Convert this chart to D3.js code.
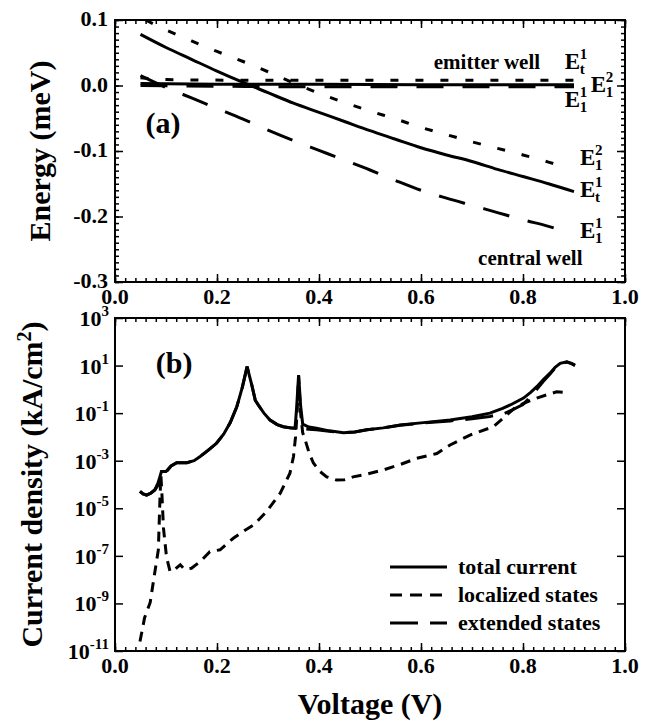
<!DOCTYPE html>
<html lang="en">
<head>
<meta charset="utf-8">
<script src="https://d3js.org/d3.v7.min.js"></script>
<style type="text/css">
body { margin: 0; background: #fff; }
.frame { fill: none; stroke: #000; stroke-width: 2; }
.curve { fill: none; stroke: #000; stroke-width: 3; }
</style>
</head>
<body>
<script type="text/javascript">
// ---- panel (a): energy levels, [voltage, energy] ----
var emitterEt1  = [[0.05,0.003],[0.2,0.002],[0.4,0.002],[0.6,0.001],[0.8,0.001],[0.9,0.001]];
var emitterE12  = [[0.05,0.012],[0.1,0.009],[0.3,0.008],[0.5,0.008],[0.7,0.008],[0.9,0.008]];
var emitterE11  = [[0.05,0.000],[0.2,-0.001],[0.4,-0.002],[0.6,-0.002],[0.8,-0.002],[0.9,-0.002]];
var centralEt1  = [[0.05,0.078],[0.1,0.058],[0.15,0.040],[0.2,0.022],[0.25,0.005],[0.3,-0.011],[0.35,-0.027],
                   [0.4,-0.041],[0.45,-0.055],[0.5,-0.069],[0.55,-0.082],[0.6,-0.095],[0.65,-0.106],[0.7,-0.116],
                   [0.75,-0.128],[0.8,-0.139],[0.85,-0.150],[0.9,-0.162]];
var centralE12  = [[0.06,0.100],[0.1,0.085],[0.15,0.068],[0.2,0.052],[0.25,0.037],[0.3,0.021],[0.35,0.004],
                   [0.4,-0.012],[0.45,-0.026],[0.5,-0.039],[0.55,-0.051],[0.6,-0.064],[0.65,-0.075],[0.7,-0.086],
                   [0.75,-0.096],[0.8,-0.106],[0.85,-0.117],[0.88,-0.124]];
var centralE11  = [[0.05,0.015],[0.1,-0.003],[0.15,-0.019],[0.2,-0.035],[0.25,-0.051],[0.3,-0.068],[0.35,-0.084],
                   [0.4,-0.099],[0.45,-0.114],[0.5,-0.129],[0.55,-0.145],[0.6,-0.160],[0.65,-0.172],[0.7,-0.183],
                   [0.75,-0.194],[0.8,-0.205],[0.85,-0.215],[0.88,-0.222]];

// ---- panel (b): current density (kA/cm^2), [voltage, J] ----
var totalCurrent = [[0.049,5.2e-5],[0.055,4.0e-5],[0.062,3.6e-5],[0.070,4.3e-5],[0.078,5.9e-5],[0.084,1.1e-4],
  [0.088,2.1e-4],[0.091,3.5e-4],[0.100,3.5e-4],[0.110,6.0e-4],[0.121,8.3e-4],[0.141,8.3e-4],[0.155,1.0e-3],
  [0.167,1.5e-3],[0.183,2.8e-3],[0.199,5.4e-3],[0.213,1.3e-2],[0.226,4.0e-2],[0.239,1.9e-1],[0.250,1.3],
  [0.259,9.0],[0.268,1.6],[0.275,3.5e-1],[0.281,2.2e-1],[0.292,1.0e-1],[0.304,5.1e-2],[0.318,3.3e-2],
  [0.330,2.7e-2],[0.345,2.4e-2],[0.353,2.3e-2],[0.356,1.5e-1],[0.360,4.0],[0.364,2.0e-1],[0.368,3.5e-2],
  [0.380,2.6e-2],[0.395,2.3e-2],[0.420,1.8e-2],[0.448,1.5e-2],[0.470,1.6e-2],[0.494,2.0e-2],[0.526,2.4e-2],
  [0.559,3.2e-2],[0.600,3.9e-2],[0.657,5.1e-2],[0.700,7.0e-2],[0.735,1.0e-1],[0.760,1.6e-1],[0.775,2.2e-1],
  [0.801,4.3e-1],[0.815,7.5e-1],[0.827,1.3],[0.840,2.6],[0.853,4.8],[0.863,8.5],[0.873,1.25e1],[0.886,1.45e1],
  [0.895,1.25e1],[0.902,1.05e1]];
var localizedStates = [[0.049,2.5e-11],[0.058,2.5e-10],[0.069,1.1e-9],[0.078,2.0e-8],[0.085,1.8e-7],
  [0.088,2.0e-5],[0.090,2.5e-4],[0.092,4.0e-5],[0.095,1.5e-6],[0.101,9.0e-8],[0.108,2.2e-8],[0.118,2.8e-8],
  [0.128,4.2e-8],[0.136,2.8e-8],[0.150,3.0e-8],[0.168,6.0e-8],[0.186,1.5e-7],[0.206,1.8e-7],[0.232,5.5e-7],
  [0.255,1.2e-6],[0.272,2.0e-6],[0.297,7.2e-6],[0.324,4.3e-5],[0.343,3.0e-4],[0.350,1.5e-3],[0.354,1.0e-2],
  [0.357,1.0e-1],[0.360,3.5],[0.364,1.0e-1],[0.368,1.5e-2],[0.373,7.4e-3],[0.381,2.0e-3],[0.389,8.0e-4],
  [0.402,3.5e-4],[0.415,2.1e-4],[0.434,1.55e-4],[0.450,1.6e-4],[0.467,2.1e-4],[0.490,2.6e-4],[0.526,4.1e-4],
  [0.560,7.0e-4],[0.591,1.25e-3],[0.631,2.0e-3],[0.657,4.6e-3],[0.696,1.2e-2],[0.742,2.7e-2],[0.768,8.3e-2],
  [0.787,1.9e-1],[0.805,2.8e-1],[0.827,4.3e-1],[0.848,6.0e-1],[0.866,7.9e-1],[0.878,7.6e-1],[0.889,7.2e-1]];
var extendedStates = [[0.049,5.2e-5],[0.055,4.0e-5],[0.062,3.6e-5],[0.070,4.3e-5],[0.078,5.9e-5],[0.084,9.0e-5],
  [0.090,1.4e-4],[0.100,3.3e-4],[0.110,6.0e-4],[0.121,8.3e-4],[0.141,8.3e-4],[0.155,1.0e-3],[0.167,1.5e-3],
  [0.183,2.8e-3],[0.199,5.4e-3],[0.213,1.3e-2],[0.226,4.0e-2],[0.239,1.9e-1],[0.250,1.3],[0.259,9.0],
  [0.268,1.6],[0.275,3.5e-1],[0.281,2.2e-1],[0.292,1.0e-1],[0.304,5.1e-2],[0.318,3.3e-2],[0.330,2.7e-2],
  [0.345,2.4e-2],[0.360,2.3e-2],[0.380,2.1e-2],[0.395,2.0e-2],[0.420,1.75e-2],[0.448,1.5e-2],[0.470,1.6e-2],
  [0.494,2.0e-2],[0.526,2.4e-2],[0.559,3.1e-2],[0.600,3.8e-2],[0.657,4.7e-2],[0.700,5.8e-2],[0.735,7.3e-2],
  [0.760,9.0e-2],[0.780,1.4e-1],[0.800,2.3e-1],[0.815,5.0e-1],[0.827,1.0],[0.840,2.2],[0.853,4.4],
  [0.863,8.0],[0.873,1.2e1],[0.886,1.4e1],[0.895,1.2e1],[0.902,1.0e1]];

var voltTicks   = [0, 0.2, 0.4, 0.6, 0.8, 1.0];
var energyTicks = [0.1, 0.0, -0.1, -0.2, -0.3];
var currentExps = [3, 1, -1, -3, -5, -7, -9, -11];
var legendNames = ["total current", "localized states", "extended states"];

var W = 650, H = 721;
var pa = {left: 115, right: 625, top: 20, bottom: 282};
var pb = {left: 115, right: 625, top: 318, bottom: 651};

var svg = d3.select("body").append("svg")
            .attr("width", W)
            .attr("height", H);

var xa = d3.scaleLinear().domain([0, 1]).range([pa.left, pa.right]);
var ya = d3.scaleLinear().domain([-0.3, 0.1]).range([pa.bottom, pa.top]);
var xb = d3.scaleLinear().domain([0, 1]).range([pb.left, pb.right]);
var yb = d3.scaleLog().domain([1e-11, 1e3]).range([pb.bottom, pb.top]);

var minorV = d3.range(0, 1.0001, 0.02);

function label(x, y, size, txt) {
  return svg.append("text")
    .attr("x", x).attr("y", y)
    .style("font-family", "Liberation Serif")
    .style("font-weight", "bold")
    .style("font-size", size + "px")
    .text(txt);
}

function ticks(axis, tr) {
  svg.append("g").attr("transform", tr)
     .call(axis)
     .call(function(g){ g.select(".domain").remove(); })
     .call(function(g){ g.selectAll(".tick line").attr("stroke", "#000").attr("stroke-width", 1.5); });
}

function frameAxes(x, y, p, yMajor, yMinor) {
  var tb = "translate(0," + p.bottom + ")", tt = "translate(0," + p.top + ")";
  var tl = "translate(" + p.left + ",0)", tr = "translate(" + p.right + ",0)";
  ticks(d3.axisBottom(x).tickValues(minorV).tickSize(-4).tickFormat(""), tb);
  ticks(d3.axisBottom(x).tickValues(voltTicks).tickSize(-8).tickFormat(""), tb);
  ticks(d3.axisTop(x).tickValues(minorV).tickSize(-4).tickFormat(""), tt);
  ticks(d3.axisTop(x).tickValues(voltTicks).tickSize(-8).tickFormat(""), tt);
  if (yMinor) {
    ticks(d3.axisLeft(y).tickValues(yMinor).tickSize(-4).tickFormat(""), tl);
    ticks(d3.axisRight(y).tickValues(yMinor).tickSize(-4).tickFormat(""), tr);
  }
  ticks(d3.axisLeft(y).tickValues(yMajor).tickSize(-8).tickFormat(""), tl);
  ticks(d3.axisRight(y).tickValues(yMajor).tickSize(-8).tickFormat(""), tr);

  svg.append("rect").attr("class", "frame")
     .attr("x", p.left).attr("y", p.top)
     .attr("width", p.right - p.left).attr("height", p.bottom - p.top);

  voltTicks.forEach(function(d) {
    label(x(d), p.bottom + 22, 22, d.toFixed(1)).attr("text-anchor", "middle");
  });
}

// ---------- panel (a) ----------
var minorE = d3.range(-0.3, 0.1001, 0.01).map(function(d){ return Math.round(d*100)/100; });
frameAxes(xa, ya, pa, energyTicks, minorE);

energyTicks.forEach(function(d) {
  label(pa.left - 7, ya(d) + 6, 22, d.toFixed(1)).attr("text-anchor", "end");
});

var lineA = d3.line()
  .x(function(d){ return xa(d[0]); })
  .y(function(d){ return ya(d[1]); })
  .curve(d3.curveMonotoneX);

var dotted = "8,17", longDash = "27,19";
[[emitterE11, longDash], [emitterE12, dotted], [emitterEt1, null],
 [centralE11, longDash], [centralE12, dotted], [centralEt1, null]].forEach(function(s) {
  svg.append("path").datum(s[0]).attr("class", "curve")
     .attr("d", lineA)
     .attr("stroke-dasharray", s[1]);
});

function drawE(x, y, sup, sub) {
  label(x, y, 23, "E");
  label(x + 15, y - 10, 15, sup);
  label(x + 15, y + 5, 15, sub);
}

label(xa(0.625), 69, 21, "emitter well");
drawE(xa(0.882), 69, "1", "t");
drawE(xa(0.933), 92, "2", "1");
drawE(xa(0.882), 107, "1", "1");
drawE(xa(0.912), 165, "2", "1");
drawE(xa(0.912), 197, "1", "t");
drawE(xa(0.912), 238, "1", "1");
label(xa(0.712), 265, 21, "central well");
label(xa(0.06), 133, 30, "(a)");

label(0, 0, 30, "Energy (meV)")
   .attr("transform", "translate(50," + ((pa.top + pa.bottom) / 2) + ") rotate(-90)")
   .attr("text-anchor", "middle");

// ---------- panel (b) ----------
var majorJ = currentExps.map(function(e){ return Math.pow(10, e); });
frameAxes(xb, yb, pb, majorJ, null);

currentExps.forEach(function(e) {
  var t = label(pb.left - 6, yb(Math.pow(10, e)) + 8, 22, null).attr("text-anchor", "end");
  t.append("tspan").text("10");
  t.append("tspan").attr("dy", -10).style("font-size", "15px").text(e);
});

var lineB = d3.line()
  .x(function(d){ return xb(d[0]); })
  .y(function(d){ return yb(d[1]); });

svg.append("path").datum(extendedStates).attr("class", "curve").attr("d", lineB).attr("stroke-dasharray", "28,12");
svg.append("path").datum(localizedStates).attr("class", "curve").attr("d", lineB).attr("stroke-dasharray", "10,7");
svg.append("path").datum(totalCurrent).attr("class", "curve").attr("d", lineB);

label(xb(0.08), 373, 30, "(b)");

var dashes = [null, "12,8", "28,12"];
legendNames.forEach(function(name, i) {
  var ly = 567 + i * 28;
  svg.append("line").attr("class", "curve")
     .attr("x1", 390).attr("x2", 447).attr("y1", ly).attr("y2", ly)
     .attr("stroke-dasharray", dashes[i]);
  label(458, ly + 7, 22, name);
});

var yt = label(0, 0, 30, null)
   .attr("transform", "translate(42," + ((pb.top + pb.bottom) / 2) + ") rotate(-90)")
   .attr("text-anchor", "middle");
yt.append("tspan").text("Current density (kA/cm");
yt.append("tspan").attr("dy", -11).style("font-size", "20px").text("2");
yt.append("tspan").attr("dy", 11).text(")");

label((pb.left + pb.right) / 2, 714, 30, "Voltage (V)").attr("text-anchor", "middle");
</script>
</body>
</html>
